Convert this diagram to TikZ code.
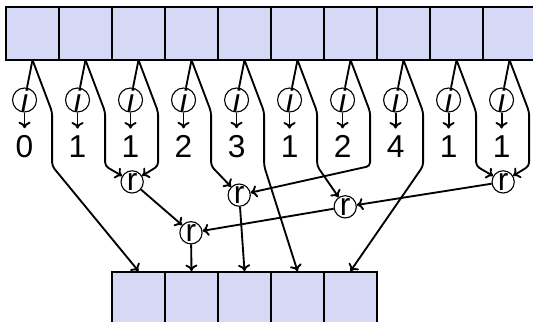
\documentclass[tikz,border=0pt]{standalone}
\usepackage{fontspec}
\setmainfont{Liberation Sans}
\usetikzlibrary{arrows.meta}
\definecolor{cellfill}{RGB}{213,217,245}
\tikzset{
  cell/.style={draw, fill=cellfill, minimum size=1cm, inner sep=0pt, line width=1pt},
  op/.style={draw, circle, fill=white, inner sep=0pt, minimum size=0.42cm, line width=0.6pt},
  num/.style={inner sep=3.5pt},
  link/.style={->, rounded corners=2pt}
}
\begin{document}
\begin{tikzpicture}[>={To[length=3.5pt,width=6.5pt]}, line width=1pt, font=\fontsize{17}{20}\selectfont]
    \useasboundingbox (-0.113,0.132) rectangle (9.943,-5.943);
    % reduction nodes
    \node[op] (r1) at (2.38,-3.30) {r};
    \node[op] (r2) at (4.40,-3.55) {r};
    \node[op] (r3) at (6.40,-3.77) {r};
    \node[op] (r4) at (9.38,-3.30) {r};
    \node[op] (r5) at (3.49,-4.26) {r};
    % output cells
    \foreach \k in {0,...,4}{
            \node[cell] (out\k) at (\k+2.5,-5.5) {};
        }
    % input cells
    \foreach \x/\v/\t in {0/0/out0.north, 1/1/r1, 2/1/r1, 3/2/r2, 4/3/out3.north,
            5/1/r3, 6/2/r2, 7/4/out4.north, 8/1/r4, 9/1/r4}{
            \node[cell] (in\x) at (\x+0.5,-0.5) {};
            \coordinate (f\x) at (\x+0.5,-1);
            \node[op] (i\x) at (\x+0.35,-1.755) {\itshape i};
            \node[num] (n\x) at (\x+0.35,-2.64) {\v};
            \draw (f\x) -- (i\x);
            \draw[->] (i\x) -- (n\x);
            \draw[link] (f\x) -- (\x+0.87,-1.98) -- (\x+0.87,-3.0) -- (\t);
        }
    \draw[->] (r1) -- (r5);
    \draw[->] (r4) -- (r3);
    \draw[->] (r3) -- (r5);
    \draw[->] (r5) -- (out1.north);
    \draw[->] (r2) -- (out2.north);
\end{tikzpicture}
\end{document}
